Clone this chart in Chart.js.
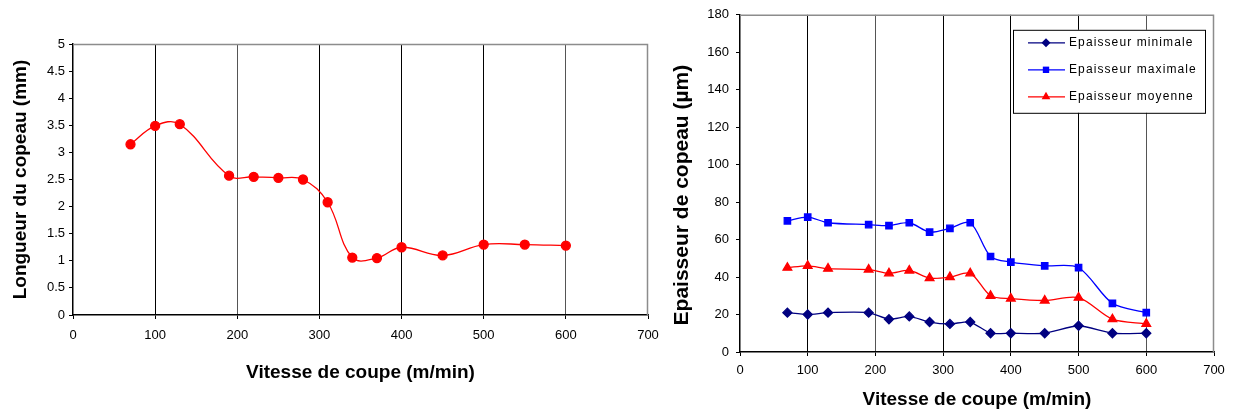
<!DOCTYPE html>
<html>
<head>
<meta charset="utf-8">
<script src="https://cdn.jsdelivr.net/npm/chart.js@4/dist/chart.umd.min.js"></script>
<style>
  body { margin: 0; background: #fff; }
  #wrap { position: relative; width: 1236px; height: 412px; }
  #left { position: absolute; left: 0; top: 0; width: 676px; height: 400px; }
  #right { position: absolute; left: 660px; top: 0; width: 576px; height: 412px; }
</style>
</head>
<body>
<div id="wrap">
  <div id="left"><canvas id="longChart"></canvas></div>
  <div id="right"><canvas id="epChart"></canvas></div>
</div>
<script>
// cutting speed (m/min), same for both graphs
var vitesse = [70, 100, 130, 190, 220, 250, 280, 310, 340, 370, 400, 450, 500, 550, 600];
// chip length (mm)
var longueur = [3.15, 3.49, 3.52, 2.57, 2.55, 2.53, 2.5, 2.08, 1.06, 1.05, 1.25, 1.1, 1.3, 1.3, 1.28];
// chip thickness (µm)
var epMin = [21, 20, 21, 21, 17.5, 19, 16, 15, 16, 10, 10, 10, 14, 10, 10];
var epMax = [70, 72, 69, 68, 67.5, 69, 64, 66, 69, 51, 48, 46, 45, 26, 21];
var epMoy = [45, 46, 44.5, 44, 42, 43.5, 39.5, 40, 42, 30, 28.5, 27.5, 29, 17.5, 15];

var FONT = "'Liberation Sans', Arial, sans-serif";
Chart.defaults.font.family = FONT;
Chart.defaults.color = '#000';

function pts(ys) {
  return vitesse.map(function (v, i) { return { x: v, y: ys[i] }; });
}

// grey frame on top and right of the plot
var framePlugin = {
  id: 'frame',
  beforeDatasetsDraw: function (chart) {
    var a = chart.chartArea, c = chart.ctx;
    c.save();
    c.strokeStyle = '#8c8c8c';
    c.lineWidth = 1.5;
    c.beginPath();
    c.moveTo(a.left, a.top + 0.5);
    c.lineTo(a.right - 0.5, a.top + 0.5);
    c.lineTo(a.right - 0.5, a.bottom);
    c.stroke();
    c.restore();
  }
};

function gridColor(ctx) {
  var v = ctx.tick && ctx.tick.value;
  if (v === 0 || v === 700) return 'rgba(0,0,0,0)';
  if (v === 200 || v === 600) return '#555';
  return '#000';
}

function plainNum(v) { return v; }

function xScale(labelPad, titlePad, height) {
  return {
    type: 'linear', min: 0, max: 700,
    ticks: { stepSize: 100, padding: labelPad, font: { size: 13 }, color: '#000' },
    grid: { color: gridColor, tickColor: '#000', tickLength: 4 },
    border: { color: '#000', width: 1.5 },
    title: { display: true, text: 'Vitesse de coupe (m/min)', color: '#000',
             font: { size: 19, weight: 'bold' }, padding: { top: titlePad, bottom: titlePad } },
    afterFit: function (s) { s.height = height; }
  };
}

new Chart(document.getElementById('longChart'), {
  type: 'line',
  data: {
    datasets: [{
      data: pts(longueur),
      borderColor: '#ff0000',
      backgroundColor: '#ff0000',
      borderWidth: 1.3,
      pointRadius: 4.5,
      pointStyle: 'circle',
      tension: 0.4
    }]
  },
  options: {
    responsive: true, maintainAspectRatio: false, animation: false,
    layout: { padding: { top: 44, right: 28, left: 0, bottom: 0 } },
    plugins: { legend: { display: false }, tooltip: { enabled: false } },
    scales: {
      x: xScale(9, 16, 85),
      y: {
        min: 0, max: 5,
        ticks: { stepSize: 0.5, padding: 4, font: { size: 13 }, color: '#000', callback: plainNum },
        grid: { drawOnChartArea: false, tickColor: '#000', tickLength: 4 },
        border: { color: '#000', width: 1.5 },
        title: { display: true, text: 'Longueur du copeau (mm)', color: '#000',
                 font: { size: 19, weight: 'bold' }, padding: { top: 9, bottom: 0 } },
        afterFit: function (s) { s.width = 73; }
      }
    }
  },
  plugins: [framePlugin]
});

// legend drawn inside the plot with a black box
var boxLegend = {
  id: 'boxLegend',
  afterDatasetsDraw: function (chart) {
    var a = chart.chartArea, c = chart.ctx;
    var w = 192, h = 83;
    var x0 = a.right - 9 - w, y0 = a.top + 15;
    c.save();
    c.fillStyle = '#fff';
    c.fillRect(x0, y0, w, h);
    c.strokeStyle = '#000';
    c.lineWidth = 1;
    c.strokeRect(x0 + 0.5, y0 + 0.5, w, h);
    chart.data.datasets.forEach(function (ds, i) {
      var y = y0 + 13 + i * 27;
      c.strokeStyle = ds.borderColor;
      c.lineWidth = 1.3;
      c.beginPath();
      c.moveTo(x0 + 15, y);
      c.lineTo(x0 + 52, y);
      c.stroke();
      c.fillStyle = ds.backgroundColor;
      Chart.helpers.drawPoint(c, { pointStyle: ds.pointStyle, radius: ds.pointRadius, rotation: 0, borderWidth: 0 }, x0 + 33, y);
      c.fillStyle = '#000';
      c.font = '12px ' + FONT;
      c.letterSpacing = '1.1px';
      c.textBaseline = 'middle';
      c.fillText(ds.label, x0 + 56, y);
    });
    c.restore();
  }
};

new Chart(document.getElementById('epChart'), {
  type: 'line',
  data: {
    datasets: [{
      label: 'Epaisseur minimale',
      data: pts(epMin),
      borderColor: '#000080', backgroundColor: '#000080',
      pointStyle: 'rectRot', pointRadius: 4.5,
      borderWidth: 1.3, tension: 0.2
    }, {
      label: 'Epaisseur maximale',
      data: pts(epMax),
      borderColor: '#0000ff', backgroundColor: '#0000ff',
      pointStyle: 'rect', pointRadius: 4.5,
      borderWidth: 1.3, tension: 0.3
    }, {
      label: 'Epaisseur moyenne',
      data: pts(epMoy),
      borderColor: '#ff0000', backgroundColor: '#ff0000',
      pointStyle: 'triangle', pointRadius: 5,
      borderWidth: 1.3, tension: 0.3
    }]
  },
  options: {
    responsive: true, maintainAspectRatio: false, animation: false,
    layout: { padding: { top: 12, right: 22, left: 0, bottom: 0 } },
    plugins: { legend: { display: false }, tooltip: { enabled: false } },
    scales: {
      x: xScale(7, 1, 60),
      y: {
        min: 0, max: 180,
        ticks: { stepSize: 20, padding: 7, font: { size: 13 }, color: '#000' },
        grid: { drawOnChartArea: false, tickColor: '#000', tickLength: 4 },
        border: { color: '#000', width: 1.5 },
        // trailing spaces push the rotated text a little lower, as in the original
        title: { display: true, text: 'Epaisseur de copeau (µm)\u00a0\u00a0\u00a0\u00a0', color: '#000',
                 font: { size: 21, weight: 'bold' }, padding: { top: 10, bottom: 0 } },
        afterFit: function (s) { s.width = 80; }
      }
    }
  },
  plugins: [framePlugin, boxLegend]
});
</script>
</body>
</html>
